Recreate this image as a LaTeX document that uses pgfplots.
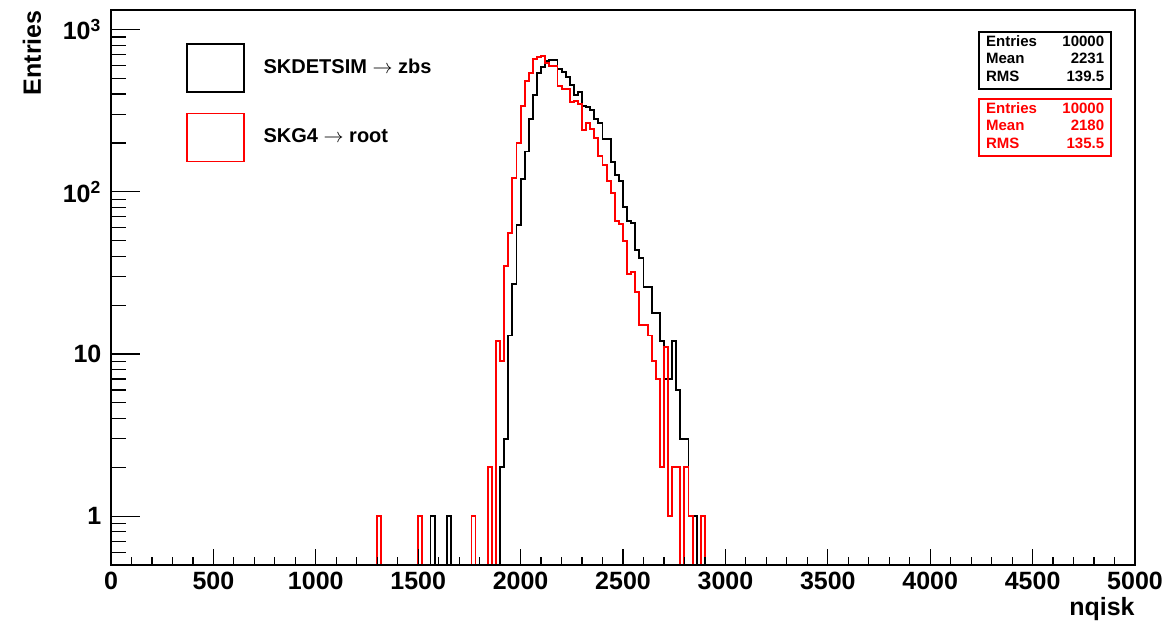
\documentclass[border=0pt]{standalone}
\usepackage{pgfplots}
\pgfplotsset{compat=1.18}
\usepackage{fontspec}
\setmainfont{Liberation Sans}

\newsavebox\statA
\newsavebox\statB

\begin{document}%
\sbox\statA{\fontsize{7.5}{8.75}\selectfont\bfseries%
\begin{tabular*}{59pt}{@{}l@{\extracolsep{\fill}}r@{}}Entries & 10000\\ Mean & 2231\\ RMS & 139.5\end{tabular*}}%
\sbox\statB{\fontsize{7.5}{8.75}\selectfont\bfseries\color{red}%
\begin{tabular*}{59pt}{@{}l@{\extracolsep{\fill}}r@{}}Entries & 10000\\ Mean & 2180\\ RMS & 135.5\end{tabular*}}%
\begin{tikzpicture}
\begin{axis}[
  name=ax,
  scale only axis,
  width=512pt, height=277.5pt,
  ymode=log,
  xmin=0, xmax=5000,
  ymin=0.5, ymax=1320,
  axis on top,
  axis line style={line width=1pt},
  tick pos=left,
  tick align=inside,
  xtick={0,500,...,5000},
  minor x tick num=4,
  ytick={1,10,100,1000},
  yticklabels={1,10,10\textsuperscript{2},10\textsuperscript{3}},
  minor ytick={0.6,0.7,0.8,0.9,2,3,4,5,6,7,8,9,20,30,40,50,60,70,80,90,200,300,400,500,600,700,800,900},
  major tick length=14.5pt, minor tick length=7.5pt,
  xtick style={/pgfplots/major tick length=7.8pt, /pgfplots/minor tick length=4.2pt},
  tick style={black, line width=0.6pt},
  ticklabel style={font=\fontsize{12.5}{14}\selectfont\bfseries},
  /pgf/number format/assume math mode=true,
  xticklabel style={/pgf/number format/1000 sep={}},
  yticklabel style={xshift=-1.3pt},
  scaled x ticks=false,
  xlabel={nqisk},
  ylabel={Entries},
  xlabel style={at={(rel axis cs:1,0)}, anchor=east, yshift=-22pt, inner sep=0pt, font=\fontsize{12.5}{14}\selectfont\bfseries},
  ylabel style={at={(rel axis cs:0,1)}, anchor=east, yshift=39.5pt, inner sep=0pt, font=\fontsize{12.5}{14}\selectfont\bfseries},
  legend style={draw=none, fill=none, at={(rel axis cs:0.0732,0.9405)}, anchor=north west,
    font=\fontsize{10}{12}\selectfont\bfseries, row sep=10pt, column sep=9.5pt, inner sep=0pt,
    nodes={inner sep=0pt, anchor=west}},
  legend cell align=left,
  legend image code/.code={\draw[#1, line width=0.65pt] (0pt,-12pt) rectangle (28.5pt,12pt);},
  clip=true,
]
\addplot[const plot, black, line width=0.95pt] coordinates {
(0,0.5) (1560,1) (1580,0.5) (1640,1) (1660,0.5) (1900,2) (1920,3) (1940,13) (1960,27) (1980,62)
(2000,120) (2020,177) (2040,280) (2060,395) (2080,542) (2100,585) (2120,643) (2140,649) (2160,649)
(2180,569) (2200,550) (2220,508) (2240,455) (2260,395) (2280,414) (2300,338) (2320,332) (2340,319)
(2360,280) (2380,264) (2400,211) (2420,211) (2440,153) (2460,127) (2480,116) (2500,81) (2520,66)
(2540,64) (2560,44) (2580,39) (2600,26) (2620,26) (2640,18) (2660,18) (2680,12) (2700,7) (2720,7)
(2740,12) (2760,6) (2780,3) (2800,3) (2820,1) (2840,1) (2860,0.5) (5000,0.5)
};
\addlegendentry{SKDETSIM $\rightarrow$ zbs}
\addplot[const plot, red, line width=0.95pt] coordinates {
(0,0.5) (1300,1) (1320,0.5) (1500,1) (1520,0.5) (1760,1) (1780,0.5) (1840,2) (1860,0.5) (1880,12)
(1900,9) (1920,35) (1940,56) (1960,121) (1980,199) (2000,338) (2020,484) (2040,542) (2060,655)
(2080,674) (2100,687) (2120,625) (2140,596) (2160,596) (2180,451) (2200,430) (2220,430) (2240,359)
(2260,363) (2280,346) (2300,240) (2320,264) (2340,243) (2360,214) (2380,166) (2400,146) (2420,117)
(2440,98) (2460,66) (2480,63) (2500,50) (2520,31) (2540,32) (2560,24) (2580,15) (2600,15) (2620,13)
(2640,9) (2660,7) (2680,2) (2700,11) (2720,1) (2740,2) (2760,2) (2780,0.5) (2800,2) (2820,1)
(2840,0.5) (2880,1) (2900,0.5) (5000,0.5)
};
\addlegendentry{SKG4 $\rightarrow$ root}
\node[draw=black, line width=0.8pt, fill=white, anchor=north east, inner sep=0pt, minimum width=66pt, minimum height=28.5pt] at (rel axis cs:0.9775,0.962) {\usebox\statA};
\node[draw=red, line width=0.8pt, fill=white, anchor=north east, inner sep=0pt, minimum width=66pt, minimum height=28.5pt] at (rel axis cs:0.9775,0.8414) {\usebox\statB};
\coordinate (bbsw) at (rel axis cs:0,0);
\coordinate (bbne) at (rel axis cs:1,1);
\end{axis}
\pgfresetboundingbox
\useasboundingbox ([xshift=-55.5pt,yshift=-28.5pt]bbsw) rectangle ([xshift=16.5pt,yshift=5pt]bbne);
\end{tikzpicture}%
\end{document}
